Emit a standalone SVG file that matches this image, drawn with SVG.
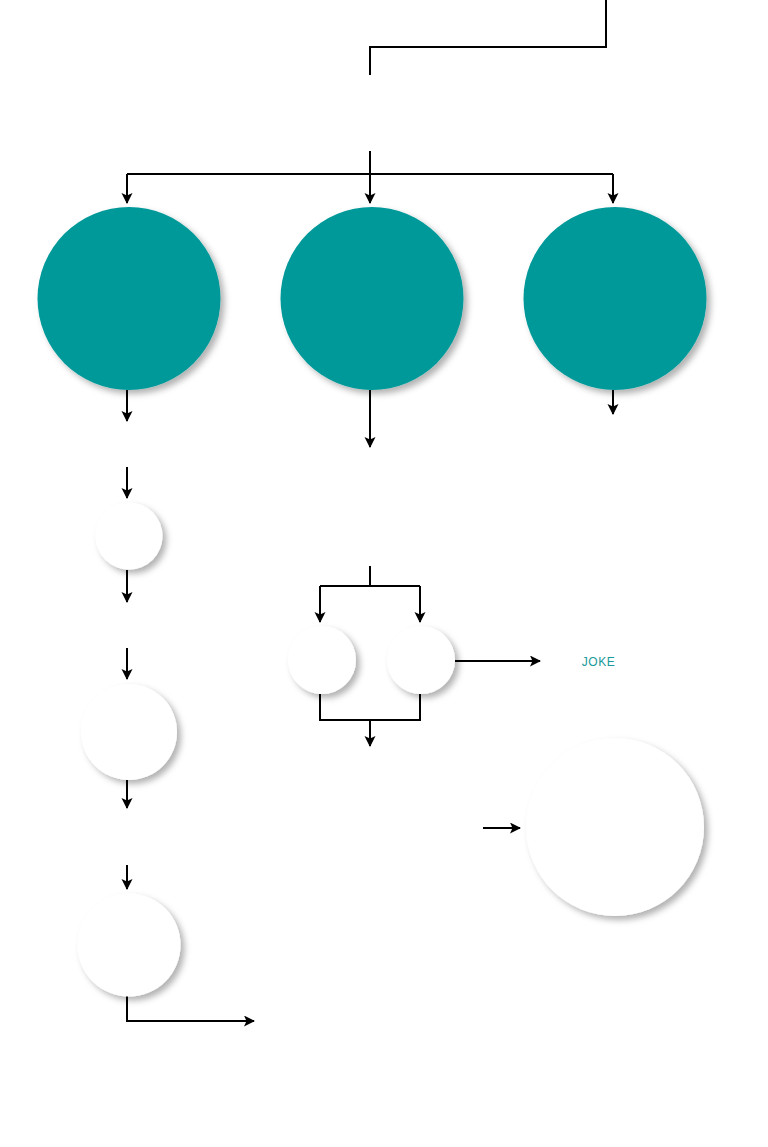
<svg xmlns="http://www.w3.org/2000/svg" width="768" height="1147" viewBox="0 0 768 1147">
<style>
.c{fill:none;stroke:#000;stroke-width:2}
.a{marker-end:url(#ah)}
.teal{fill:#009999;filter:url(#sh)}
.white{fill:#fff;filter:url(#sh)}
.lbl{font-family:"Liberation Sans",Arial,sans-serif;font-size:12px;letter-spacing:0.6px;fill:#1a9a9a;text-anchor:middle}
</style>
<defs>
<marker id="ah" markerWidth="12" markerHeight="12" refX="10" refY="5.5" orient="auto" markerUnits="userSpaceOnUse">
<path d="M0,0 L11,5.5 L0,11 L2.5,5.5 Z" fill="#000"/>
</marker>
<filter id="sh" x="-20%" y="-20%" width="150%" height="150%">
<feDropShadow dx="4" dy="4" stdDeviation="3" flood-color="#000" flood-opacity="0.3"/>
</filter>
</defs>
<g id="connectors">
<path class="c" d="M606,0 V47 H370 V75"/>
<path class="c" d="M370,151 V174"/>
<path class="c" d="M127,174 H613"/>
<path class="c a" d="M127,174 V203"/>
<path class="c a" d="M370,174 V203"/>
<path class="c a" d="M613,174 V203"/>
<path class="c a" d="M127,390 V421"/>
<path class="c a" d="M370,390 V447"/>
<path class="c a" d="M613,390 V414"/>
<path class="c a" d="M127,467 V498"/>
<path class="c a" d="M127,570 V602"/>
<path class="c a" d="M127,648 V679"/>
<path class="c a" d="M127,780 V808"/>
<path class="c a" d="M127,865 V889"/>
<path class="c a" d="M127,996 V1021 H254"/>
<path class="c" d="M370,566 V586"/>
<path class="c a" d="M320,586 V622"/>
<path class="c a" d="M420,586 V622"/>
<path class="c" d="M320,586 H420"/>
<path class="c a" d="M455,661 H540"/>
<path class="c" d="M320,694 V720 H420 V694"/>
<path class="c a" d="M370,720 V746"/>
<path class="c a" d="M483,828 H520"/>
</g>
<g id="n1"><circle class="teal" cx="129" cy="298.5" r="91.5"/></g>
<g id="n2"><circle class="teal" cx="372" cy="298.5" r="91.5"/></g>
<g id="n3"><circle class="teal" cx="615" cy="298.5" r="91.5"/></g>
<g id="n4"><circle class="white" cx="129" cy="536" r="33.5"/></g>
<g id="n5"><circle class="white" cx="129" cy="732" r="48"/></g>
<g id="n6"><circle class="white" cx="129" cy="945" r="51.5"/></g>
<g id="n7"><circle class="white" cx="322" cy="660" r="34"/></g>
<g id="n8"><circle class="white" cx="421" cy="660" r="34"/></g>
<g id="n9"><text class="lbl" x="598.5" y="666">JOKE</text></g>
<g id="n10"><circle class="white" cx="615" cy="827" r="89"/></g>
</svg>
